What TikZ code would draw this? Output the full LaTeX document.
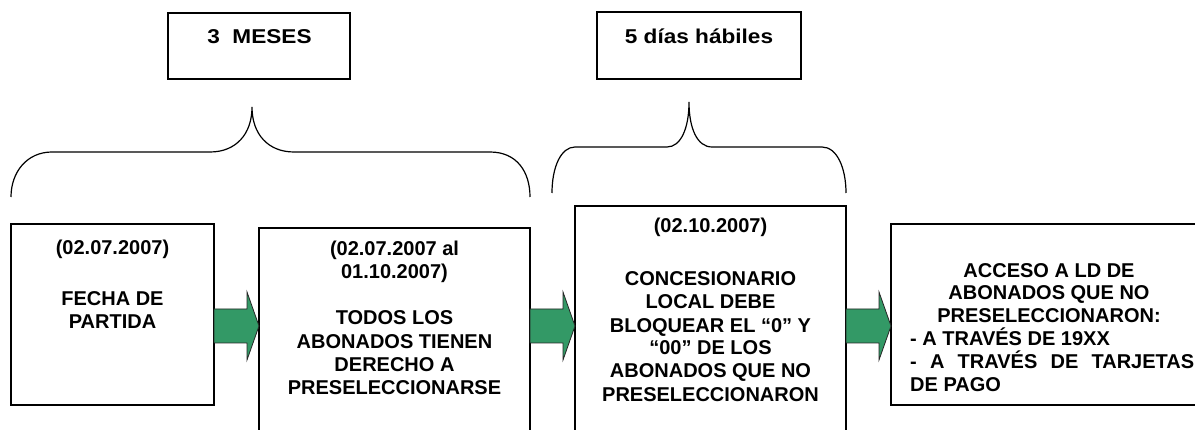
\documentclass[tikz,border=0pt]{standalone}
\usepackage{fontspec}
\setmainfont{Liberation Sans}
\newfontfamily\widefont[FakeStretch=1.13]{Liberation Sans}
\usetikzlibrary{calc}
\definecolor{agreen}{RGB}{51,153,102}
\newcommand\flowarrow[2]{%
  \draw[garrow] ($(#1.east|-ay)+(0,-17)$) -- ($(#2.west|-ay)+(-12,-17)$)
    -- ($(#2.west|-ay)+(-12,-34)$) -- (#2.west|-ay)
    -- ($(#2.west|-ay)+(-12,34)$) -- ($(#2.west|-ay)+(-12,17)$)
    -- ($(#1.east|-ay)+(0,17)$) -- cycle;}
\begin{document}
\begin{tikzpicture}[x=1pt,y=-1pt,
  box/.style={draw, line width=1.3pt, inner sep=0pt, outer sep=0pt, anchor=north west},
  txt/.style={font=\fontsize{20}{23}\selectfont\bfseries, inner sep=0pt, anchor=base},
  ltxt/.style={txt, anchor=base west},
  lbl/.style={font=\fontsize{20}{23}\selectfont\widefont\bfseries, inner sep=0pt, anchor=base},
  brace/.style={line width=1.2pt},
  garrow/.style={fill=agreen, draw=black!85, line width=0.8pt, line join=miter}]
\useasboundingbox (0,0) rectangle (1195,430);
\clip (0,0) rectangle (1195,430);
\fill[white] (0,0) rectangle (1195,430);
% top labels
\node[box, minimum width=182pt, minimum height=66pt] (lab1) at (168,13) {};
\node[box, minimum width=204pt, minimum height=67pt] (lab2) at (597,12) {};
\node[lbl] (lab1t) at (259.5,43.3) {3~~MESES};
\node[lbl] (lab2t) at (699,44) {5 días hábiles};
% braces
\draw[brace] (11,197) .. controls (11,172) and (27,152) .. (52,152) -- (210,152)
  .. controls (236,152) and (252,134) .. (252,107)
  .. controls (252,134) and (268,152) .. (294,152) -- (490,152)
  .. controls (517,152) and (530,172) .. (530,197);
\draw[brace] (552,193) .. controls (552,167) and (561,147) .. (575,147) -- (667,147)
  .. controls (681,147) and (689,128) .. (689,102)
  .. controls (689,128) and (697,147) .. (712,147) -- (822,147)
  .. controls (837,147) and (846,168) .. (846,193);
% boxes
\node[box, minimum width=203pt, minimum height=181pt] (b1) at (11,224) {};
\node[box, minimum width=271pt, minimum height=240pt] (b2) at (259,228) {};
\node[box, minimum width=271pt, minimum height=260pt] (b3) at (575,206) {};
\node[box, minimum width=330pt, minimum height=181pt] (b4) at (891,224) {};
% texts
\foreach \s/\yy [count=\i] in {{(02.07.2007)}/254.3, {FECHA DE}/305.7, {PARTIDA}/328.3}
  \node[txt] (b1t\i) at (112.5,\yy) {\s};
\foreach \s/\yy [count=\i] in {{(02.07.2007 al}/255.7, {01.10.2007)}/279,
    {TODOS LOS}/325, {ABONADOS TIENEN}/348.3, {DERECHO A}/371.7, {PRESELECCIONARSE}/395}
  \node[txt] (b2t\i) at (394.5,\yy) {\s};
\foreach \s/\yy [count=\i] in {{(02.10.2007)}/233, {CONCESIONARIO}/286, {LOCAL DEBE}/309,
    {BLOQUEAR EL “0” Y}/332.3, {“00” DE LOS}/355, {ABONADOS QUE NO}/378, {PRESELECCIONARON}/401.5}
  \node[txt] (b3t\i) at (710.5,\yy) {\s};
\foreach \s/\yy [count=\i] in {{ACCESO A LD DE}/277.3, {ABONADOS QUE NO}/300, {PRESELECCIONARON:}/322.3}
  \node[txt] (b4t\i) at (1049,\yy) {\s};
\node[ltxt] (b4t4) at (910,345.7) {- A TRAVÉS DE 19XX};
\node[ltxt] (b4t5) at (910,369) {\makebox[284pt][s]{- A TRAVÉS DE TARJETAS}};
\node[ltxt] (b4t6) at (910,391.7) {DE PAGO};
% arrows
\coordinate (ay) at (0,326);
\flowarrow{b1}{b2}
\flowarrow{b2}{b3}
\flowarrow{b3}{b4}
\end{tikzpicture}
\end{document}
